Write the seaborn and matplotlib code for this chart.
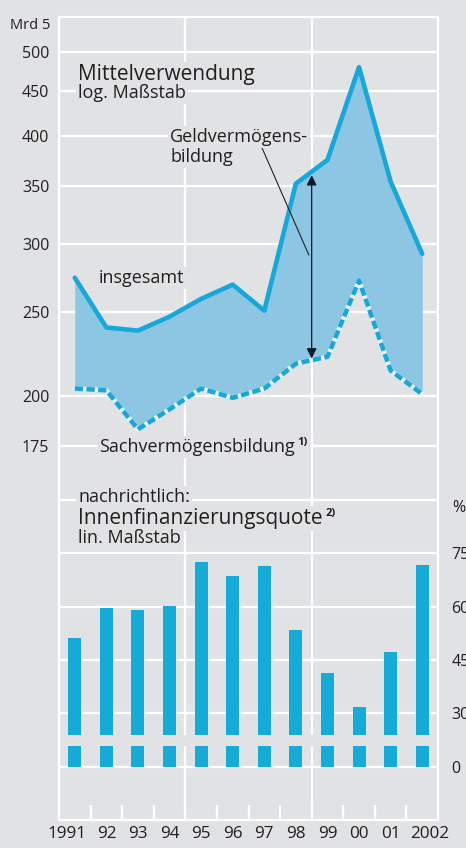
import matplotlib
matplotlib.use("Agg")
import matplotlib.pyplot as plt
import matplotlib.transforms as mtransforms
from matplotlib.ticker import FixedLocator, NullLocator
import seaborn as sns
import numpy as np

# ---------------- data ----------------
years = [1991, 1992, 1993, 1994, 1995, 1996, 1997, 1998, 1999, 2000, 2001, 2002]
year_labels = ["1991", "92", "93", "94", "95", "96", "97", "98", "99", "00", "01", "2002"]
insgesamt = [274, 240, 238, 247, 259, 269, 251, 352, 375, 480, 354, 292]
sachvermoegen = [204, 203, 183, 193, 204, 199, 204, 218, 222, 272, 214, 201]
quote = [51.3, 59.5, 59.1, 60.3, 72.6, 68.6, 71.5, 53.4, 41.2, 31.7, 47.2, 71.8]
log_ticks = [175, 200, 250, 300, 350, 400, 450, 500]
lin_ticks = [0, 30, 45, 60, 75, 90]
lin_labels = ["0", "30", "45", "60", "75", ""]
geld_span = [221, 360]          # Geldvermögensbildung arrow (1998/99)
section_lines = [1994.5, 1998.5]

# ---------------- style ----------------
BG = "#e1e2e4"
LINE = "#17a8db"
FILL = "#8cc6e3"
BAR = "#15abd9"
TXT = "#231f20"
W, H = 466, 848

sns.set_theme(style="white", rc={"axes.facecolor": BG, "figure.facecolor": BG})
plt.rcParams["font.family"] = ["Open Sans", "DejaVu Sans"]

fig = plt.figure(figsize=(W / 100, H / 100), dpi=100, facecolor=BG)
L, R = 59 / W, 438 / W
ax1 = fig.add_axes([L, 1 - 470 / H, R - L, (470 - 17) / H])
ax2 = fig.add_axes([L, 1 - 820 / H, R - L, (820 - 470) / H])

for ax in (ax1, ax2):
    ax.set_facecolor(BG)
    ax.set_xlim(1990.5, 2002.5)
    for s in ax.spines.values():
        s.set_color("white")
        s.set_linewidth(1.6)
    ax.set_axisbelow(True)
    ax.yaxis.grid(True, color="white", linewidth=1.6)
    ax.xaxis.grid(False)
    for xv in section_lines:
        ax.axvline(xv, color="white", linewidth=1.6, zorder=0.6)
ax1.spines["bottom"].set_visible(False)
ax2.spines["top"].set_visible(False)

# ---------------- top panel (log) ----------------
ax1.set_yscale("log")
ax1.fill_between(years, sachvermoegen, insgesamt, color=FILL, linewidth=0, zorder=2)
sns.lineplot(x=years, y=insgesamt, ax=ax1, color=LINE, linewidth=3.3, zorder=4)
sns.lineplot(x=years, y=sachvermoegen, ax=ax1, color="#eef3f6", linewidth=3.3, zorder=3)
sns.lineplot(x=years, y=sachvermoegen, ax=ax1, color=LINE, linewidth=3.3, zorder=4,
             linestyle=(0, (1.8, 0.75)))
ax1.set_ylim(164.2, 548.6)
ax1.yaxis.set_major_locator(FixedLocator(log_ticks))
ax1.yaxis.set_minor_locator(NullLocator())
ax1.set_yticklabels([str(t) for t in log_ticks])
ax1.tick_params(axis="y", length=0, pad=7, labelsize=11.5, labelcolor=TXT)
ax1.tick_params(axis="x", bottom=False, labelbottom=False)
ax1.set_xlabel("")
ax1.set_ylabel("")

# Geldvermögensbildung arrow + leader line
ax1.annotate("", xy=(1998.5, geld_span[1]), xytext=(1998.5, geld_span[0]),
             arrowprops=dict(arrowstyle="<|-|>", color="#111827", lw=0.9,
                             mutation_scale=15, shrinkA=0, shrinkB=0), zorder=6)
ax1.plot([1996.91, 1998.41], [388.5, 291.1], color="#222222", lw=0.8, zorder=6)

# ---------------- bottom panel (lin, broken) ----------------
def fwd(v):
    v = np.asarray(v, dtype=float)
    return np.where(v >= 30, v, 15 + v / 2)

def inv(u):
    u = np.asarray(u, dtype=float)
    return np.where(u >= 30, u, (u - 15) * 2)

ax2.set_yscale("function", functions=(fwd, inv))
sns.barplot(x=years, y=quote, ax=ax2, native_scale=True, width=0.41,
            color=BAR, saturation=1, linewidth=0, zorder=2)
ax2.axhspan(11.6, 17.8, color=BG, linewidth=0, zorder=2.2)
ax2.set_ylim(-30, 98.4)
ax2.set_xlim(1990.5, 2002.5)
ax2.yaxis.set_major_locator(FixedLocator(lin_ticks))
ax2.yaxis.set_minor_locator(NullLocator())
ax2.set_yticklabels(lin_labels)
ax2.yaxis.tick_right()
ax2.tick_params(axis="y", length=0, pad=9.5, labelsize=11.5, labelcolor=TXT,
                left=False, right=False)
ax2.xaxis.set_major_locator(FixedLocator(years))
ax2.set_xticklabels(year_labels)
ax2.xaxis.set_minor_locator(FixedLocator([y + 0.5 for y in years[:-1]]))
ax2.tick_params(axis="x", which="major", length=0, pad=4.5, labelsize=12.3, labelcolor=TXT)
ax2.tick_params(axis="x", which="minor", direction="in", length=11, width=1.6,
                color="white", bottom=True)
ax2.set_xlabel("")
ax2.set_ylabel("")
# first and last year labels sit slightly outward, as in the original
xlabels = ax2.get_xticklabels()
xlabels[0].set_transform(xlabels[0].get_transform() +
                         mtransforms.ScaledTranslation(-8 / 100, 0, fig.dpi_scale_trans))
xlabels[-1].set_transform(xlabels[-1].get_transform() +
                          mtransforms.ScaledTranslation(7 / 100, 0, fig.dpi_scale_trans))

# ---------------- texts ----------------
def ftext(x, y, s, size, **kw):
    return fig.text(x / W, 1 - y / H, s, fontsize=size, color=TXT, ha="left",
                    va="baseline", zorder=10,
                    bbox=dict(facecolor=BG, edgecolor="none", pad=1.2), **kw)

renderer = fig.canvas.get_renderer()

def sup(t, s, dy=8, size=8):
    bb = t.get_window_extent(renderer)
    fig.text((bb.x1 + 3) / W, (bb.y0 + dy + 3) / H, s, fontsize=size, color=TXT,
             fontweight="bold", ha="left", va="baseline", zorder=10,
             bbox=dict(facecolor=BG, edgecolor="none", pad=1.2))

fig.text(50 / W, 1 - 29 / H, "Mrd 5", fontsize=10.5, color=TXT, ha="right", va="baseline")
ftext(78, 80, "Mittelverwendung", 15)
ftext(78, 98, "log. Maßstab", 13)
ftext(170, 142, "Geldvermögens-", 13)
ftext(170, 162, "bildung", 13)
ftext(99, 283, "insgesamt", 13)
t1 = ftext(99, 452, "Sachvermögensbildung", 13)
sup(t1, "1)")
ftext(78, 502, "nachrichtlich:", 13)
t2 = ftext(78, 524, "Innenfinanzierungsquote", 15)
sup(t2, "2)", dy=10)
ftext(78, 543, "lin. Maßstab", 13)
fig.text(452 / W, 1 - 512 / H, "%", fontsize=11.5, color=TXT, ha="left", va="baseline")

fig.savefig("out.png", dpi=100, facecolor=BG)
